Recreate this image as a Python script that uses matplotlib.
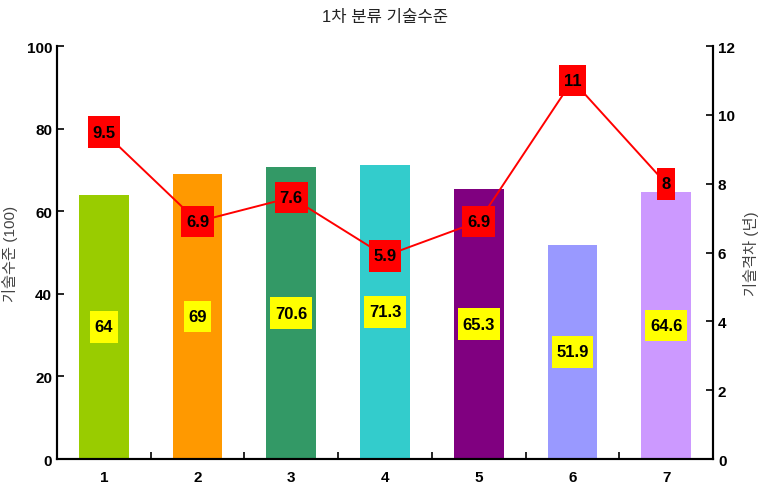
import numpy as np
import matplotlib.pyplot as plt
from matplotlib.path import Path

plt.rcParams['font.family'] = ['Liberation Sans', 'Noto Sans CJK KR']

# data
categories = ['1', '2', '3', '4', '5', '6', '7']
level = [64, 69, 70.6, 71.3, 65.3, 51.9, 64.6]
gap = [9.5, 6.9, 7.6, 5.9, 6.9, 11, 8]
bar_colors = ['#99CC00', '#FF9900', '#339966', '#33CCCC', '#800080', '#9999FF', '#CC99FF']

x = np.arange(1, len(categories) + 1)


def label_box(x0, y0, width, height, mutation_size):
    # rectangle with less padding at the sides than at top/bottom
    px = 0.28 * mutation_size
    py = 0.5 * mutation_size
    x0, y0 = x0 - px, y0 - py
    x1, y1 = x0 + width + 2 * px, y0 + height + 2 * py
    return Path([(x0, y0), (x1, y0), (x1, y1), (x0, y1), (x0, y0)], closed=True)


fig = plt.figure(figsize=(7.63, 4.85), dpi=100)
ax = fig.add_axes([0.0747, 0.0515, 0.8598, 0.8515])
ax2 = ax.twinx()

ax.bar(x, level, width=0.53, color=bar_colors, zorder=2)
for xi, v in zip(x, level):
    ax.text(xi, v / 2, f'{v:g}', ha='center', va='center', fontsize=12,
            fontweight='bold', color='black', zorder=3,
            bbox=dict(boxstyle=label_box, fc='#FFFF00', ec='none'))

ax2.plot(x, gap, color='#FF0000', lw=1.4, zorder=3)
for xi, v in zip(x, gap):
    ax2.text(xi, v, f'{v:g}', ha='center', va='center', fontsize=12,
             fontweight='bold', color='black', zorder=4,
             bbox=dict(boxstyle=label_box, fc='#FF0000', ec='none'))

ax.set_xlim(0.5, 7.5)
ax.set_ylim(0, 100)
ax2.set_ylim(0, 12)

# x-axis: category labels centred, tick marks between categories
ax.set_xticks(x[:-1] + 0.5)
ax.set_xticklabels([])
ax.set_xticks(x, minor=True)
ax.set_xticklabels(categories, minor=True, fontsize=11, fontweight='bold')
ax.tick_params(axis='x', which='major', direction='in', length=5, width=1.2)
ax.tick_params(axis='x', which='minor', length=0, pad=8)

ax.set_yticks(np.arange(0, 101, 20))
ax2.set_yticks(np.arange(0, 13, 2))
ax.tick_params(axis='y', direction='in', length=5, width=1.2, labelsize=11)
ax2.tick_params(axis='y', direction='in', length=5, width=1.2, labelsize=11)
for lab in ax.get_yticklabels() + ax2.get_yticklabels():
    lab.set_fontweight('bold')

for a in (ax, ax2):
    a.spines['top'].set_visible(False)
    for s in ('left', 'right', 'bottom'):
        a.spines[s].set_linewidth(1.5)

ax.set_ylabel('기술수준 (100)', fontsize=11, color='#444444', labelpad=6)
ax2.set_ylabel('기술격차 (년)', fontsize=11, color='#444444', labelpad=6)
ax.set_title('1차 분류 기술수준', fontsize=12, color='#222222', pad=18)

fig.savefig('out.png', dpi=100)
